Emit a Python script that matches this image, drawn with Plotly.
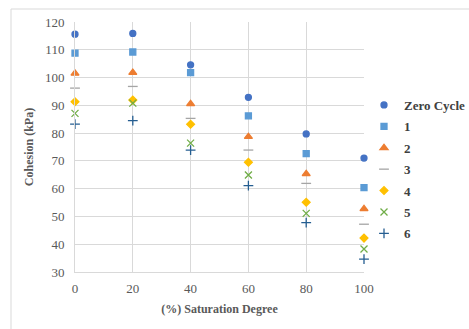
import plotly.graph_objects as go

saturation = [0, 20, 40, 60, 80, 100]
series_names = ["Zero Cycle", "1", "2", "3", "4", "5", "6"]
zero_cycle = [115.6, 115.9, 104.6, 92.9, 79.7, 71.0]
cycle_1 = [108.8, 109.2, 101.8, 86.2, 72.6, 60.4]
cycle_2 = [101.5, 101.8, 90.5, 78.7, 65.3, 52.7]
cycle_3 = [96.2, 96.8, 85.3, 73.9, 61.9, 47.2]
cycle_4 = [91.3, 91.9, 83.2, 69.5, 55.1, 42.2]
cycle_5 = [87.1, 90.8, 76.4, 64.9, 51.1, 38.3]
cycle_6 = [83.2, 84.5, 73.9, 61.1, 47.8, 34.6]
x_ticks = [0, 20, 40, 60, 80, 100]
y_ticks = [30, 40, 50, 60, 70, 80, 90, 100, 110, 120]

values = [zero_cycle, cycle_1, cycle_2, cycle_3, cycle_4, cycle_5, cycle_6]
colors = ["#4472C4", "#5B9BD5", "#ED7D31", "#A5A5A5", "#FFC000", "#70AD47", "#255E91"]
symbols = ["circle", "square", "triangle-up", "line-ew", "diamond", "x-thin", "cross-thin"]
sizes = [6, 6, 7, 7, 6, 7, 7]

fig = go.Figure()
for name, vals, c, s, sz in zip(series_names, values, colors, symbols, sizes):
    fig.add_trace(go.Scatter(
        x=saturation, y=vals, mode="markers", name=name, legendgroup=name,
        cliponaxis=False,
        marker=dict(color=c, symbol=s, size=sz,
                    line=dict(color=c, width=1.3)),
    ))

W, H = 469, 329
L, R, T, B = 75, 105, 22, 57
pw, ph = W - L - R, H - T - B

fig.update_layout(
    width=W, height=H,
    margin=dict(l=L, r=R, t=T, b=B, autoexpand=False),
    paper_bgcolor="white", plot_bgcolor="white",
    font=dict(family="Liberation Serif", color="#595959", size=13),
    showlegend=True,
    legend=dict(
        xref="container", yref="container",
        x=364 / W, y=1 - 90 / H, xanchor="left", yanchor="top",
        font=dict(family="Liberation Serif", size=13, color="#404040", weight="bold"),
        itemwidth=30, tracegroupgap=1.5, bgcolor="rgba(0,0,0,0)",
    ),
    xaxis=dict(
        range=[0, 100], tickvals=x_ticks, showgrid=True, gridcolor="#d9d9d9",
        gridwidth=1, zeroline=False, showline=True, linecolor="#d9d9d9",
        ticks="", ticklabelstandoff=4,
        title=dict(text="(%) Saturation Degree",
                   font=dict(family="Liberation Serif", size=12, color="#595959", weight="bold"),
                   standoff=10),
        tickfont=dict(size=13, color="#595959"),
    ),
    yaxis=dict(
        range=[30, 120], tickvals=y_ticks, showgrid=True, gridcolor="#d9d9d9",
        gridwidth=1, zeroline=False, showline=True, linecolor="#d9d9d9",
        ticks="", ticklabelstandoff=7,
        title=dict(text="Cohesion (kPa)",
                   font=dict(family="Liberation Serif", size=12, color="#595959", weight="bold"),
                   standoff=8),
        tickfont=dict(size=13, color="#595959"),
    ),
)

fig.add_shape(
    type="rect", xref="paper", yref="paper", layer="below",
    x0=(11 - L) / pw, x1=(480 - L) / pw,
    y0=(ph - (340 - T)) / ph, y1=(ph - (9 - T)) / ph,
    line=dict(color="#d9d9d9", width=1), fillcolor="rgba(0,0,0,0)",
)

fig.write_html("out.html")
